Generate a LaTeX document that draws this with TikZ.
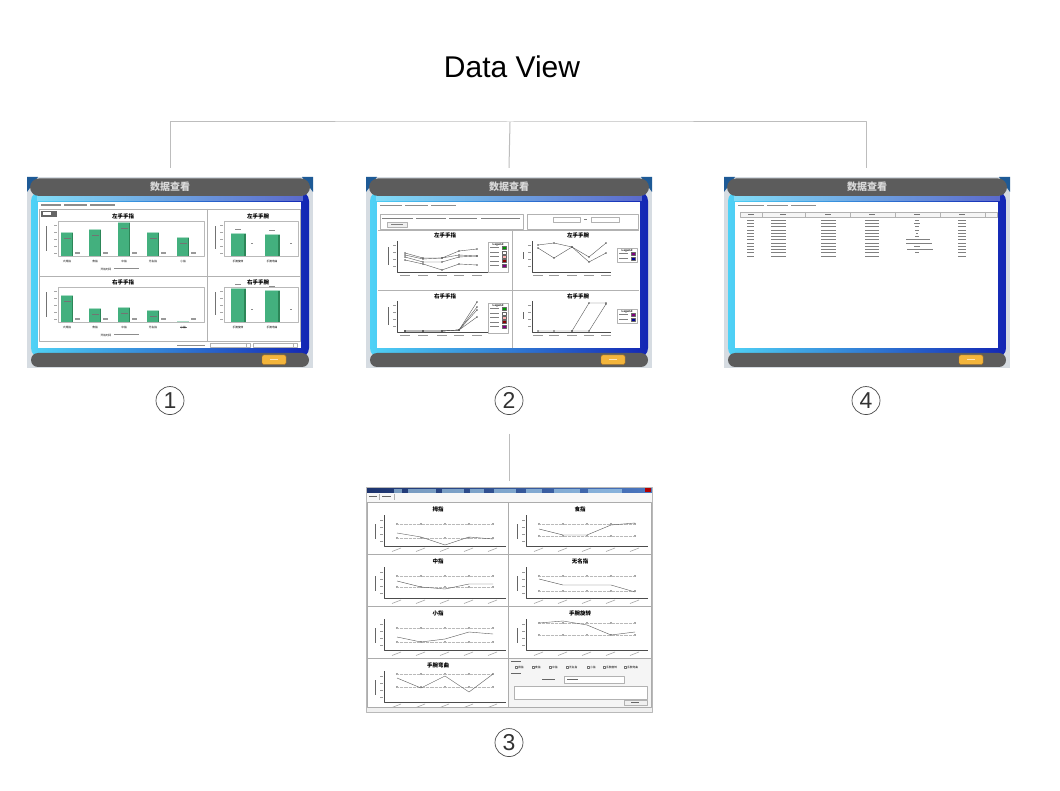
\documentclass[tikz,border=0pt]{standalone}
\usepackage{fontspec}
\setmainfont{Liberation Sans}
\newfontfamily\cjk{Noto Sans CJK SC}
\usetikzlibrary{positioning}

\definecolor{linienGrau}{HTML}{BDBDBD}
\definecolor{rahmenHell}{HTML}{D6DCE2}
\definecolor{eckBlau}{HTML}{1E5A96}
\definecolor{leisteGrau}{HTML}{5C5C5C}
\definecolor{cyanHell}{HTML}{4FD2F6}
\definecolor{blauDunkel}{HTML}{1326B4}
\definecolor{balkenGruen}{HTML}{43B07E}
\definecolor{balkenDunkel}{HTML}{2C8658}
\definecolor{knopfOrange}{HTML}{F3B53C}
\definecolor{knopfRand}{HTML}{B9781E}
\definecolor{titelBlau}{HTML}{1C336E}
\definecolor{titelHell}{HTML}{4C78C0}

% Rahmen eines Screenshots (286 x 191)
\newcommand{\dvrahmen}[1]{%
  \fill[rahmenHell] (0,0) rectangle (286,191);
  \fill[eckBlau] (0,0) -- (11,0) -- (0,15) -- cycle;
  \fill[eckBlau] (286,0) -- (275,0) -- (286,15) -- cycle;
  \shade[left color=cyanHell, right color=blauDunkel, rounded corners=10] (4,14) rectangle (282,181);
  \fill[white, opacity=0.3] (10,18) rectangle (276,24);
  \fill[leisteGrau, rounded corners=9] (3,1.5) rectangle (283,19);
  \fill[leisteGrau, rounded corners=7] (4,176) rectangle (282,190);
  \fill[white] (11,25) rectangle (274,171);
  \node[kopf] (#1kopf) at (143,10) {数据查看};
  \draw[knopfRand, fill=knopfOrange, rounded corners=1.5] (235,178) rectangle (259,187.5);
  \fill[white!65!knopfOrange] (243,182) rectangle (251,183.5);
}
% Saeule: Mitte, oben, unten, halbe Breite
\newcommand{\saeule}[4]{%
  \fill[balkenGruen] (#1-#4,#2) rectangle (#1+#4,#3);
  \fill[balkenDunkel] (#1+#4-1.5,#2) rectangle (#1+#4,#3);
  \fill[white!55!balkenGruen] (#1-#4,#2) rectangle (#1+#4,#2+1);
}
% Legende: x, y, Hoehe, Farben
\newcommand{\legende}[4]{%
  \draw[feld, fill=white] (#1,#2) rectangle (#1+20,#2+#3);
  \node[mini, font=\bfseries\fontsize{3}{3}\selectfont] (lg#1#2) at (#1+10,#2+2.5) {Legend};
  \foreach \f [count=\n] in {#4}{
    \fill[black!50] (#1+2,#2+1+4.4*\n) rectangle (#1+11,#2+2+4.4*\n);
    \draw[black!60, line width=0.2pt, fill=\f] (#1+14,#2+4.4*\n) rectangle (#1+18,#2+3+4.4*\n);
  }}
% Kurvenfeld: x, y, Titel, Hilfslinien, Werte
\newcommand{\kurvenfeld}[6]{%
  \begin{scope}[shift={(#1,#2)}]
    \node[ptitel] (k#1#2) at (72,22.5) {#3};
    \draw[achse] (18,28) -- (18,59) -- (140,59);
    \foreach \y in {33,40,47,54} \fill[black!40] (13.5,\y) rectangle (16.5,\y+0.8);
    \fill[black!60] (8.5,37) rectangle (10,52);
    \foreach \x in {31,55,79,103,127}{
      \draw[black!35, line width=0.6pt] (\x-5,64.5) -- (\x+4,61);
      \fill[gray!70] (\x-0.7,#4-0.7) rectangle (\x+0.7,#4+0.7);
      \fill[gray!70] (\x-0.7,#5-0.7) rectangle (\x+0.7,#5+0.7);
    }
    \draw[hilfs] (31,#4) -- (127,#4) (31,#5) -- (127,#5);
    \draw[kurve] plot[mark=square*, mark size=0.8pt] coordinates {#6};
  \end{scope}}

\begin{document}
\begin{tikzpicture}[x=1pt, y=-1pt, line join=round,
  baum/.style={draw=linienGrau, line width=1pt},
  shot/.style={minimum width=286pt, minimum height=191pt, inner sep=0pt},
  nummer/.style={circle, draw=black!70, line width=0.7pt, minimum size=28pt, inner sep=0pt,
    text=black!80, font=\fontsize{23}{23}\selectfont},
  kopf/.style={font=\cjk\bfseries\fontsize{10}{10}\selectfont, text=white!85!black, inner sep=0pt},
  ptitel/.style={font=\cjk\bfseries\fontsize{5.5}{6}\selectfont, inner sep=0pt},
  mini/.style={font=\cjk\fontsize{2.7}{3}\selectfont, inner sep=0pt},
  feld/.style={draw=gray!60, line width=0.35pt},
  schrift/.style={fill=black!45},
  rahmenPlot/.style={draw=gray!55, line width=0.35pt},
  achse/.style={draw=black!70, line width=0.4pt},
  kurve/.style={draw=black!65, line width=0.4pt, mark options={fill=black!65}},
  hilfs/.style={draw=gray!55, densely dotted, line width=0.3pt}]
  \useasboundingbox (0,0) rectangle (1060,791);
  \fill[white] (0,0) rectangle (1060,791);

  % Titel
  \node[font=\fontsize{30}{36}\selectfont] (titel) at (512,67) {Data View};

  % Platzhalter der Screenshots
  \node[shot] (s1) at (170,272.5) {};
  \node[shot] (s2) at (509,272.5) {};
  \node[shot] (s4) at (866,272.5) {};
  \node[shot, minimum height=225pt] (s3) at (509,599.5) {};

  % Baum
  \coordinate (hub) at (510,122);
  \draw[baum] ([yshift=9pt]s1.north) |- (hub) -| ([yshift=9pt]s4.north);
  \draw[baum] (hub) -- ([yshift=9pt]s2.north);

  % Nummern
  \node[nummer, below=18pt of s1] (n1) {1};
  \node[nummer, below=18pt of s2] (n2) {2};
  \node[nummer, below=18pt of s4] (n4) {4};
  \node[nummer, below=16pt of s3] (n3) {3};
  \draw[baum] ([yshift=-19pt]n2.south) -- ([yshift=6pt]s3.north);

  % --- Ansicht 1: Balken
  \begin{scope}[shift={(27,177)}]
    \dvrahmen{a}
    \foreach \p/\q in {14/34,37/60,63/88} \fill[schrift] (\p,27.3) rectangle (\q,28.8);
    \draw[feld] (12,32) rectangle (273,164) (180,32) -- (180,164) (12,99) -- (273,99);
    \fill[black!60] (14,34) rectangle (30,40);
    \fill[white] (16,35.5) rectangle (24,38.5);
    % links
    \foreach \dy/\name/\titel/\werte in {0/a1/左手手指/{40/55,68/52,97/45,126/55,156/60},
                                         66/a2/右手手指/{40/52,68/65,97/64,126/67,156/78}}{
      \begin{scope}[shift={(0,\dy)}]
        \node[ptitel] (\name) at (96,39) {\titel};
        \draw[rahmenPlot] (31,44) rectangle (177,79);
        \fill[black!55] (19,49) rectangle (20.4,74);
        \foreach \y in {48,55,62,69,76} \fill[black!35] (27,\y) rectangle (29.5,\y+0.8);
        \foreach \x/\w in \werte{
          \saeule{\x}{\w}{79}{6}
          \fill[black!55] (\x-3.5,\w+6) rectangle (\x+3.5,\w+7.1);
          \fill[black!40] (\x+8,75.5) rectangle (\x+13,76.6);
        }
        \foreach \x/\w in {40/大拇指,68/食指,97/中指,126/无名指,156/小指}
          \node[mini] (\name\x) at (\x,84) {\w};
        \node[mini] (\name z) at (79,92) {开始时间};
        \fill[black!45] (87,91.5) rectangle (112,92.5);
      \end{scope}
    }
    % rechts
    \foreach \dy/\name/\titel/\hl/\hr in {0/a3/左手手腕/56/57, 66/a4/右手手腕/45/47}{
      \begin{scope}[shift={(0,\dy)}]
        \node[ptitel] (\name) at (231,39) {\titel};
        \draw[rahmenPlot] (197,44) rectangle (271,79);
        \fill[black!55] (188,49) rectangle (189.4,72);
        \foreach \y in {48,55,62,69,76} \fill[black!35] (193,\y) rectangle (195.5,\y+0.8);
        \saeule{211}{\hl}{79}{7.5}
        \saeule{245}{\hr}{79}{7.5}
        \fill[black!45] (208,\hl-3.5) rectangle (214,\hl-2.5);
        \fill[black!45] (242,\hr-3.5) rectangle (248,\hr-2.5);
        \fill[black!45] (224,66.5) rectangle (226,67.5);
        \fill[black!45] (263,66.5) rectangle (265,67.5);
        \node[mini] (\name l) at (211,84) {手腕旋转};
        \node[mini] (\name r) at (245,84) {手腕弯曲};
      \end{scope}
    }
    % Auswahl unten
    \fill[black!45] (150,167.8) rectangle (178,169);
    \draw[feld, fill=white] (183,166) rectangle (223,170.5) (226,166) rectangle (270,170.5);
    \draw[feld] (219,166) -- (219,170.5) (266,166) -- (266,170.5);
  \end{scope}

  % --- Ansicht 2: Kurven
  \begin{scope}[shift={(366,177)}]
    \dvrahmen{b}
    \foreach \p/\q in {14/36,39/62,65/90} \fill[schrift] (\p,28) rectangle (\q,29.5);
    \draw[feld] (14,37) rectangle (157,52) (161,37) rectangle (272,52);
    \foreach \p/\q in {16/47,50/80,83/111,115/154} \fill[black!50] (\p,40.8) rectangle (\q,42);
    \draw[feld, fill=gray!12] (21,45.5) rectangle (41,50.5);
    \fill[black!50] (25,47.5) rectangle (37,48.5);
    \draw[feld, fill=white] (187,40.5) rectangle (214,45.5) (225,40.5) rectangle (253,45.5);
    \fill[black!50] (217.5,42.5) rectangle (221,43.5);
    \draw[feld] (12,53) -- (273,53) (146,53) -- (146,171) (12,113) -- (273,113);
    % Titel
    \node[ptitel] (b1) at (79,58) {左手手指};
    \node[ptitel] (b2) at (212,58) {左手手腕};
    \node[ptitel] (b3) at (79,119) {右手手指};
    \node[ptitel] (b4) at (212,119) {右手手腕};
    % Achsen
    \foreach \dy in {0,60}{
      \begin{scope}[shift={(0,\dy)}]
        \draw[achse] (31,64) -- (31,95) -- (122,95);
        \draw[achse] (166,64) -- (166,95) -- (245,95);
        \fill[black!60] (22,70) rectangle (23.4,88);
        \fill[black!60] (157,75) rectangle (158.4,82);
        \foreach \y in {68,75,82,89}{
          \fill[black!40] (27,\y) rectangle (29.5,\y+0.8);
          \fill[black!40] (162,\y) rectangle (164.5,\y+0.8);
        }
        \foreach \x in {39,57,76,93,111} \fill[black!40] (\x-5,98) rectangle (\x+5,99);
        \foreach \x in {172,188,206,223,240} \fill[black!40] (\x-5,98) rectangle (\x+5,99);
      \end{scope}
    }
    % Kurven
    \draw[kurve] plot[mark=*, mark size=0.6pt] coordinates {(39,76) (57,81) (76,81) (93,74) (111,72)};
    \draw[kurve] plot[mark=*, mark size=0.6pt] coordinates {(39,78) (57,82) (76,81) (93,78) (111,79)};
    \draw[kurve] plot[mark=*, mark size=0.6pt] coordinates {(39,80) (57,85) (76,85) (93,80) (111,79)};
    \draw[kurve] plot[mark=*, mark size=0.6pt] coordinates {(39,83) (57,87) (76,93) (93,87) (111,88)};
    \draw[kurve] plot[mark=*, mark size=0.6pt] coordinates {(172,68) (188,66) (206,70) (223,80) (240,66)};
    \draw[kurve] plot[mark=*, mark size=0.6pt] coordinates {(172,71) (188,81) (206,70) (223,85) (240,76)};
    \foreach \e in {125,130,133,140}
      \draw[kurve] plot[mark=*, mark size=0.6pt] coordinates {(39,154) (57,154) (76,154) (93,153) (111,\e)};
    \draw[kurve] plot[mark=*, mark size=0.6pt] coordinates {(172,154) (188,154) (206,154) (223,126) (240,126)};
    \draw[kurve] plot[mark=*, mark size=0.6pt] coordinates {(206,154) (223,154) (240,127)};
    % Legenden
    \legende{122}{65}{30}{green!60!black, white, red!30, red!55!black, violet}
    \legende{251}{71}{14}{violet, blue!60!black}
    \legende{122}{126}{30}{green!60!black, white, red!30, red!55!black, violet}
    \legende{251}{132}{14}{violet, blue!60!black}
  \end{scope}

  % --- Ansicht 4: Tabelle
  \begin{scope}[shift={(724,177)}]
    \dvrahmen{d}
    \foreach \p/\q in {14/40,43/64,67/92} \fill[schrift] (\p,28) rectangle (\q,29.5);
    \draw[feld, fill=gray!8] (16,35) rectangle (273,40.5);
    \foreach \x in {38,81,126,171,216,261} \draw[feld] (\x,35) -- (\x,40.5);
    \foreach \x in {27,59,104,148,193,238} \fill[black!55] (\x-3,37.2) rectangle (\x+3,38.4);
    \foreach \r in {0,...,11}{
      \pgfmathsetmacro\yy{43+3.25*\r}
      \fill[black!50] (23,\yy) rectangle (30,\yy+0.9);
      \fill[black!50] (47,\yy) rectangle (62,\yy+0.9);
      \fill[black!50] (97,\yy) rectangle (112,\yy+0.9);
      \fill[black!50] (141,\yy) rectangle (155,\yy+0.9);
      \fill[black!50] (234,\yy) rectangle (242,\yy+0.9);
    }
    \foreach \r/\p/\q in {0/191/195,1/190/196,2/191/195,3/191/195,4/192/194,5/191/195,
                          6/182/206,7/182/208,8/190/196,9/183/209,10/191/195}{
      \pgfmathsetmacro\yy{43+3.25*\r}
      \fill[black!50] (\p,\yy) rectangle (\q,\yy+0.9);
    }
  \end{scope}

  % --- Ansicht 3: Fenster
  \begin{scope}[shift={(366,487)}]
    \fill[gray!12] (0,0) rectangle (286,225);
    \shade[left color=titelBlau, right color=titelHell] (0,0) rectangle (286,5.5);
    \foreach \p/\q in {28/36,42/70,76/98,104/118,128/150,160/176,188/214,222/256}
      \fill[cyan!25!white, opacity=0.55] (\p,1.5) rectangle (\q,5.5);
    \fill[red!70!black] (279,0.8) rectangle (285,4.5);
    \fill[gray!6] (0,5.5) rectangle (286,14.5);
    \fill[black!60] (3,8.6) rectangle (11,10);
    \fill[black!60] (16,8.6) rectangle (25,10);
    \draw[feld] (13.5,6.5) -- (13.5,13) (28,6.5) -- (28,13);
    \fill[white] (1,15) rectangle (285,220);
    \fill[gray!8] (142.5,171.5) rectangle (284.5,219.5);
    % Felder
    \kurvenfeld{0}{0}{拇指}{37}{51}{(31,46) (55,50) (79,58) (103,50) (127,52)}
    \kurvenfeld{142}{0}{食指}{37}{49}{(31,42) (55,48) (79,48) (103,38) (127,36)}
    \kurvenfeld{0}{52}{中指}{37}{48}{(31,42) (55,48) (79,50) (103,45) (127,45)}
    \kurvenfeld{142}{52}{无名指}{37}{52}{(31,40) (55,46) (79,46) (103,46) (127,53)}
    \kurvenfeld{0}{104}{小指}{37}{51}{(31,46) (55,51) (79,48) (103,41) (127,43)}
    \kurvenfeld{142}{104}{手腕旋转}{32}{44}{(31,32) (55,30) (79,34) (103,44) (127,41)}
    \kurvenfeld{0}{156}{手腕弯曲}{31}{44}{(31,35) (55,45) (79,33) (103,49) (127,31)}
    \draw[draw=gray!65, line width=0.7pt] (1,15) rectangle (285,220)
      (142,15) -- (142,220) (1,67) -- (285,67) (1,119) -- (285,119) (1,171) -- (285,171);
    % Auswahl
    \fill[black!60] (145,173.5) rectangle (155,174.7);
    \foreach \x/\w in {149/拇指,166/食指,183/中指,200/无名指,221/小指,237/手腕旋转,258/手腕弯曲}{
      \draw[black!55, line width=0.25pt, fill=white] (\x,179) rectangle (\x+2,181);
      \node[mini, anchor=west] (c\x) at (\x+3,180) {\w};
    }
    \fill[black!60] (145,186) rectangle (155,187.2);
    \fill[black!60] (176,192) rectangle (189,193.2);
    \draw[feld, fill=white] (198,189) rectangle (258,196);
    \fill[black!60] (201,191.8) rectangle (212,193);
    \draw[feld, fill=white] (148,199) rectangle (281,212);
    \draw[feld, fill=gray!12] (258,213) rectangle (281,218.5);
    \fill[black!60] (265,215.3) rectangle (273,216.3);
    \draw[gray!55, line width=0.6pt] (0,0) rectangle (286,225);
  \end{scope}
\end{tikzpicture}
\end{document}
